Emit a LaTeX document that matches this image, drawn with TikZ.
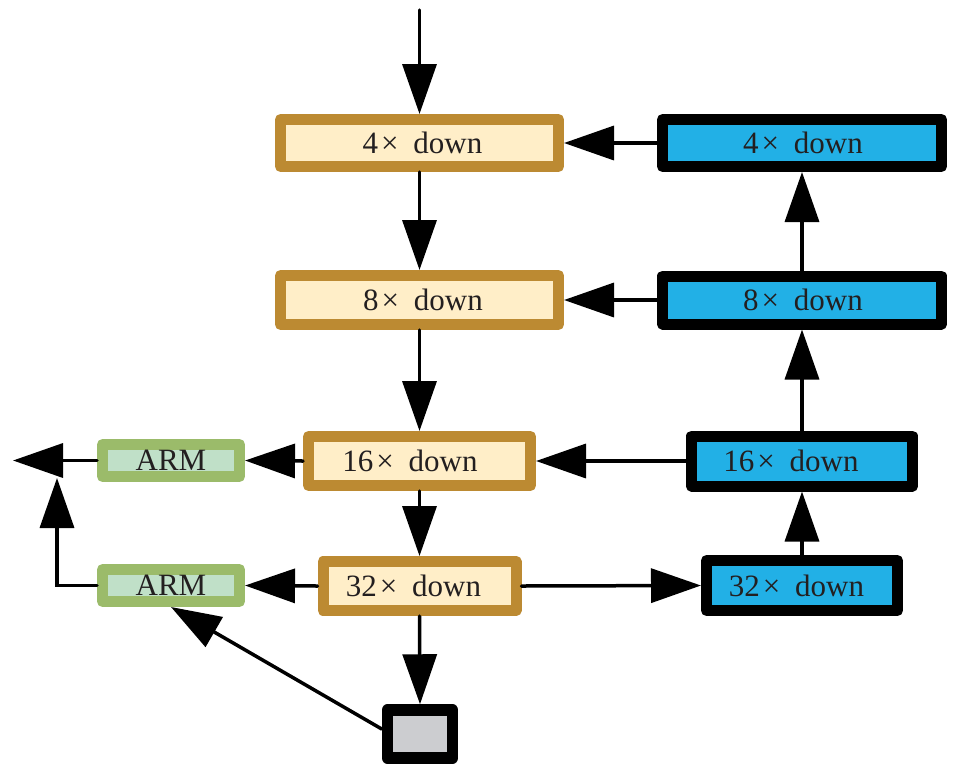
\documentclass[tikz,border=0pt]{standalone}
\usepackage{fontspec}
\setmainfont{Liberation Serif}
\usetikzlibrary{arrows.meta}
\definecolor{goldb}{RGB}{188,138,50}
\definecolor{goldf}{RGB}{255,238,200}
\definecolor{bluef}{RGB}{34,176,230}
\definecolor{greenb}{RGB}{155,187,106}
\definecolor{greenf}{RGB}{192,224,200}
\definecolor{grayf}{RGB}{204,205,208}
\definecolor{txt}{RGB}{35,31,32}
% #1 = horizontal shift of the text, #2 = factor
\newcommand\dnlabel[2]{\hspace*{#1}#2\kern3pt×\ \kern7pt down}
\begin{document}
\begin{tikzpicture}[x=1pt,y=-1pt,
  box/.style={rectangle, line width=11pt, line join=round, inner sep=0pt,
    font=\fontsize{31}{36}\selectfont, text=txt},
  goldbox/.style={box, draw=goldb, fill=goldf, minimum height=49pt},
  bluebox/.style={box, draw=black, fill=bluef, minimum height=50pt},
  armbox/.style={box, draw=greenb, fill=greenf, minimum width=137pt, minimum height=32pt},
  graybox/.style={box, draw=black, fill=grayf, line width=11.5pt, minimum width=65pt, minimum height=48pt},
  arr/.style={line width=3.5pt, line cap=round, -{Triangle[length=50pt,width=34pt]}}]
\useasboundingbox (0,0) rectangle (955,764);
% gold column
\node[goldbox, minimum width=278pt, minimum height=47pt] (g4) at (419.5,143) {\dnlabel{6pt}{4}};
\node[goldbox, minimum width=278pt] (g8) at (419.5,300) {\dnlabel{7pt}{8}};
\node[goldbox, minimum width=222pt] (g16) at (419.5,461) {\dnlabel{-19pt}{16}};
\node[goldbox, minimum width=193pt] (g32) at (419.5,586) {\dnlabel{-12pt}{32}};
% blue column
\node[bluebox, minimum width=279pt, minimum height=47pt] (b4) at (802,143) {\dnlabel{2pt}{4}};
\node[bluebox, minimum width=279pt, minimum height=48pt] (b8) at (802,300) {\dnlabel{2pt}{8}};
\node[bluebox, minimum width=221pt] (b16) at (802,461) {\dnlabel{-22pt}{16}};
\node[bluebox, minimum width=191pt] (b32) at (802,585.5) {\dnlabel{-11pt}{32}};
% ARM
\node[armbox] (arm1) at (171,460.5) {ARM};
\node[armbox] (arm2) at (171,585.5) {ARM};
% gray
\node[graybox] (gr) at (420,734) {};
% coordinates
\coordinate (in) at (419.5,10);
\coordinate (out) at (13,460.5);
\coordinate (cor) at (57,585.5);
\coordinate (up) at (57,478);
% arrows
\draw[arr] (in) -- (g4.north);
\draw[arr] (g4.south) -- (g8.north);
\draw[arr] (g8.south) -- (g16.north);
\draw[arr] (g16.south) -- (g32.north);
\draw[arr] (g32.south) -- (gr.north);
\draw[arr] (b4.west) -- (g4.east);
\draw[arr] (b8.west) -- (g8.east);
\draw[arr] (b16.west) -- (g16.east);
\draw[arr] (g32.east) -- (b32.west);
\draw[arr] (b32.north) -- (b16.south);
\draw[arr] (b16.north) -- (b8.south);
\draw[arr] (b8.north) -- (b4.south);
\draw[arr] (g16.west) -- (arm1.east);
\draw[arr] (g32.west) -- (arm2.east);
\draw[arr] (arm1.west) -- (out);
\draw[arr] (arm2.west) -- (cor) -- (up);
\draw[arr] ([yshift=5pt]gr.west) -- (arm2.south);
\end{tikzpicture}
\end{document}
